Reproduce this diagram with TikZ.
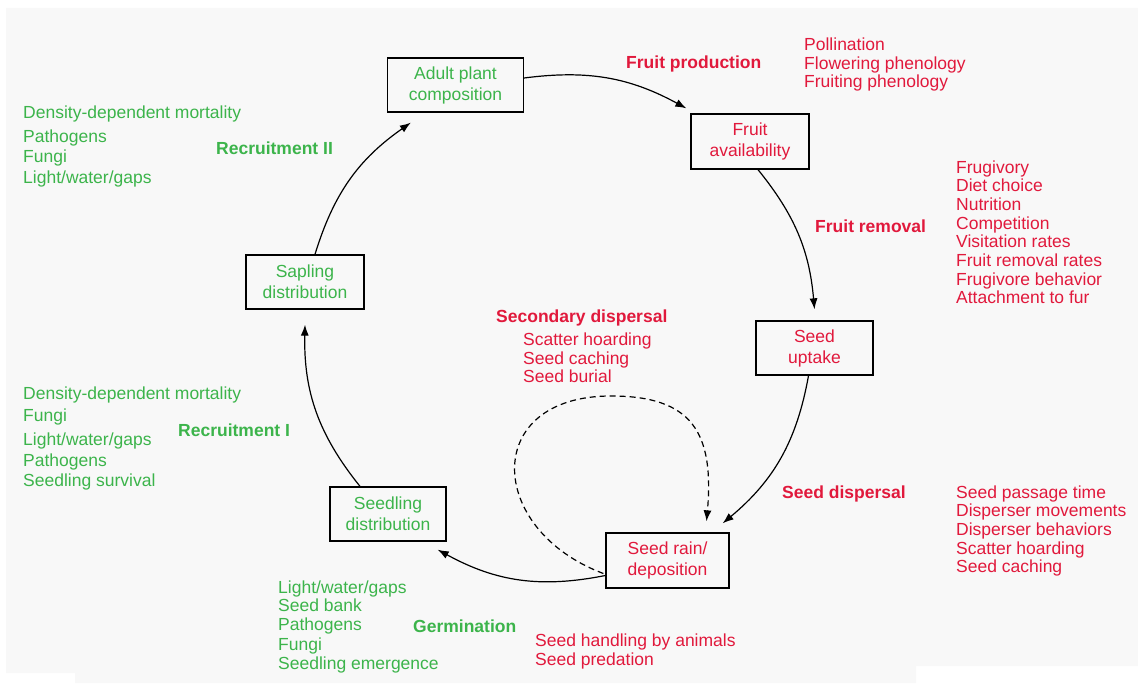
\documentclass[tikz,border=0pt]{standalone}
\usepackage{fontspec}
\setmainfont{Liberation Sans}
\usepackage{xcolor}
\usetikzlibrary{positioning,arrows.meta}
\definecolor{fruitred}{RGB}{225,25,60}
\definecolor{plantgreen}{RGB}{60,180,75}
\definecolor{paper}{RGB}{248,248,248}

\begin{document}
\begin{tikzpicture}
		[x=1pt,y=1pt,
		stage/.style={draw=black,line width=1.3pt,minimum width=118pt,minimum height=54pt,inner sep=0pt,align=center,font=\fontsize{17.5}{21}\selectfont},
		item/.style={anchor=west,inner sep=0pt,text height=12.5pt,text depth=0pt,font=\fontsize{17.5}{18.65}\selectfont},
		reditem/.style={item,text=fruitred},
		grnitem/.style={item,text=plantgreen},
		redhead/.style={reditem,font=\fontsize{17.5}{18.65}\selectfont\bfseries},
		grnhead/.style={grnitem,font=\fontsize{17.5}{18.65}\selectfont\bfseries},
		flow/.style={line width=1.2pt,-{Latex[length=11pt,width=8pt]}}]
		\useasboundingbox (0,0) rectangle (1138,683);
		\fill[paper] (6,675) -- (1138,675) -- (1138,17) -- (916,17) -- (916,0) -- (75,0) -- (75,10) -- (6,10) -- cycle;
		% the cycle
		\node[stage,minimum width=136pt,text=plantgreen] (adult) at (455.5,598) {Adult plant\\composition};
		\node[stage,minimum height=55pt,text=fruitred] (fruit) at (750,541.5) {Fruit\\availability};
		\node[stage,minimum width=117pt,text=fruitred] (uptake) at (814.5,335) {Seed\\uptake};
		\node[stage,minimum width=123pt,minimum height=55pt,text=fruitred] (rain) at (667.5,122.5) {Seed rain/\\deposition};
		\node[stage,minimum width=116pt,text=plantgreen] (seedling) at (388,169) {Seedling\\distribution};
		\node[stage,text=plantgreen] (sapling) at (305,401) {Sapling\\distribution};
		\draw[flow] ([yshift=7pt]adult.east) to[bend left=18] ([xshift=-4pt,yshift=5pt]fruit.north west);
		\draw[flow] ([xshift=8pt]fruit.south) to[bend left=17] ([yshift=11pt]uptake.north);
		\draw[flow] ([xshift=-6pt]uptake.south) to[bend left=20] ([xshift=-7pt,yshift=9pt]rain.north east);
		\draw[flow] ([yshift=-15pt]rain.west) to[bend left=20] ([xshift=-9pt,yshift=-8pt]seedling.south east);
		\draw[flow] ([xshift=-28pt]seedling.north) to[bend left=20] ([yshift=-15pt]sapling.south);
		\draw[flow] ([xshift=10pt]sapling.north) to[bend left=19] ([xshift=24pt,yshift=-10pt]adult.south west);
		% secondary dispersal loop
		\coordinate (looptop) at (611,287);
		\draw[flow,dash pattern=on 6pt off 4pt] ([xshift=-2pt,yshift=-13pt]rain.west) .. controls +(-117,44) and +(-130,0) .. (looptop)
			.. controls +(80,0) and +(8,90) .. ([xshift=39pt,yshift=11pt]rain.north);
		% stage labels
		\node[redhead] (production) at (626,621) {Fruit production};
		\node[redhead] (removal) at (815,457) {Fruit removal};
		\node[redhead] (dispersal) at (782,191) {Seed dispersal};
		\node[redhead] (secondary) at (496,367) {Secondary dispersal};
		\node[grnhead] (germination) at (413,57) {Germination};
		\node[grnhead] (recruitII) at (216,535) {Recruitment II};
		\node[grnhead] (recruitI) at (178,253) {Recruitment I};
		% factor lists
		\foreach \t/\y [count=\i] in {Pollination/44,Flowering phenology/63,Fruiting phenology/81}
			\node[reditem] (prod\i) at (804,683-\y) {\t};
		\foreach \t [count=\i] in {Frugivory,Diet choice,Nutrition,Competition,Visitation rates,Fruit removal rates,Frugivore behavior,Attachment to fur}
			\node[reditem] (rem\i) at (956,683-167-18.65*\i+18.65) {\t};
		\foreach \t/\y [count=\i] in {Seed passage time/492,Disperser movements/510,Disperser behaviors/529,Scatter hoarding/548,Seed caching/566}
			\node[reditem] (disp\i) at (956,683-\y) {\t};
		\foreach \t/\y [count=\i] in {Scatter hoarding/339,Seed caching/358,Seed burial/376}
			\node[reditem] (sec\i) at (523,683-\y) {\t};
		\foreach \t/\y [count=\i] in {Seed handling by animals/640,Seed predation/659}
			\node[reditem] (hand\i) at (535,683-\y) {\t};
		\foreach \t/\y [count=\i] in {{Light/water/gaps}/587,Seed bank/605,Pathogens/624,Fungi/644,Seedling emergence/663}
			\node[grnitem] (germ\i) at (278,683-\y) {\t};
		\foreach \t/\y [count=\i] in {Density-dependent mortality/112,Pathogens/136,Fungi/156,{Light/water/gaps}/177}
			\node[grnitem] (recII\i) at (23,683-\y) {\t};
		\foreach \t/\y [count=\i] in {Density-dependent mortality/393,Fungi/415,{Light/water/gaps}/439,Pathogens/460,Seedling survival/480}
			\node[grnitem] (recI\i) at (23,683-\y) {\t};
\end{tikzpicture}
\end{document}
